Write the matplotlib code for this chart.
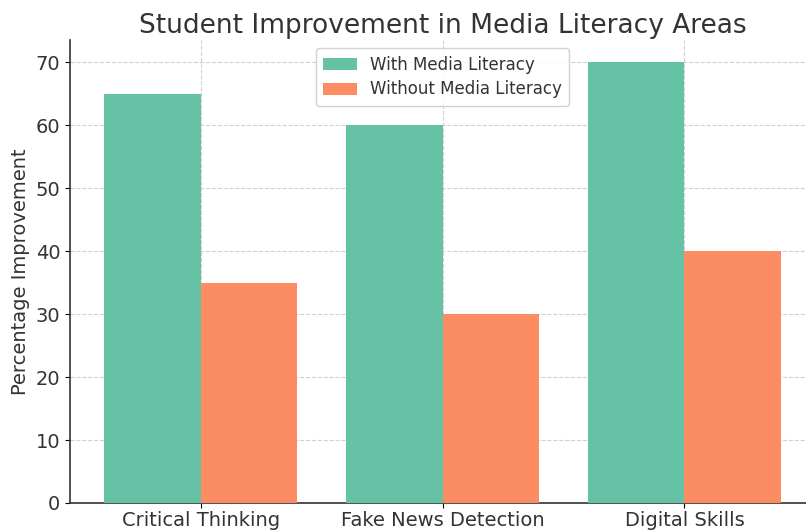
import matplotlib.pyplot as plt
import numpy as np

# Survey results: percentage improvement per area
areas = ["Critical Thinking", "Fake News Detection", "Digital Skills"]
with_literacy = [65, 60, 70]
without_literacy = [35, 30, 40]

fig = plt.figure(figsize=(8.06, 5.32), dpi=100)
ax = fig.add_axes([70 / 806, 29 / 532, 745 / 806, 463 / 532])

x = np.arange(len(areas))
width = 0.4
ax.bar(x - width / 2, with_literacy, width, color="#66c2a5", label="With Media Literacy", zorder=3)
ax.bar(x + width / 2, without_literacy, width, color="#fc8d62", label="Without Media Literacy", zorder=3)

ax.set_xticks(x)
ax.set_xticklabels(areas, fontsize=14, color="#333333")
ax.tick_params(axis="x", pad=2)
ax.tick_params(axis="y", labelsize=14, labelcolor="#333333")
ax.set_ylabel("Percentage Improvement", fontsize=14, color="#333333")
ax.set_title("Student Improvement in Media Literacy Areas", fontsize=19, color="#333333", pad=5)

ax.grid(True, linestyle="--", color="#d0d0d0", linewidth=0.8, zorder=0)
ax.spines["top"].set_visible(False)
ax.spines["right"].set_visible(False)
ax.spines["left"].set_color("#333333")
ax.spines["bottom"].set_color("#333333")
ax.spines["left"].set_linewidth(1.2)
ax.spines["bottom"].set_linewidth(1.2)

leg = ax.legend(loc="upper center", fontsize=12, framealpha=0.9,
                borderpad=0.45, labelspacing=0.4)
for t in leg.get_texts():
    t.set_color("#333333")

fig.savefig("out.png", dpi=100)
